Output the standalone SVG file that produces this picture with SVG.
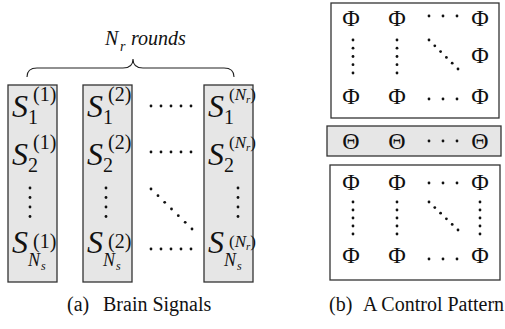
<svg xmlns="http://www.w3.org/2000/svg" width="505" height="329" viewBox="0 0 505 329">
  <style>
    .box { fill: #e6e6e6; stroke: #333; stroke-width: 1.3; }
    .wbox { fill: #fff; stroke: #333; stroke-width: 1.3; }
    .S { font-size: 32px; font-style: italic; }
    .sup { font-size: 20px; }
    .supN { font-size: 17px; }
    .sub { font-size: 20px; }
    .it { font-style: italic; }
    .sym { font-size: 24px; text-anchor: middle; }
    .cap { font-size: 20px; }
    .dot { fill: #111; }
  </style>
  <defs>
    <circle id="d" r="1.4" class="dot"/>
  </defs>

  <g font-family="'Liberation Serif', 'Times New Roman', serif" fill="#111">
  <!-- brace over the rounds -->
  <g id="brace">
    <path d="M27,77 Q27,68 37,68 L123,68 Q133,68 133,59 Q133,68 143,68 L224,68 Q234,68 234,77" fill="none" stroke="#222" stroke-width="1.1"/>
    <text x="105" y="45" font-size="20" font-style="italic">N</text>
    <text x="120" y="51" font-size="14" font-style="italic">r</text>
    <text x="131" y="45" font-size="20" font-style="italic">rounds</text>
  </g>

  <!-- round 1 column -->
  <g id="round1">
    <rect class="box" x="8" y="85" width="49" height="197"/>
    <text class="S" x="12" y="117">S</text><text class="sup" x="33" y="101">(1)</text><text class="sub" x="28" y="124">1</text>
    <text class="S" x="12" y="165">S</text><text class="sup" x="33" y="149">(1)</text><text class="sub" x="28" y="172">2</text>
    <use href="#d" x="30" y="188"/><use href="#d" x="30" y="197.5"/><use href="#d" x="30" y="207"/><use href="#d" x="30" y="216.5"/>
    <text class="S" x="12" y="253">S</text><text class="sup" x="33" y="248">(1)</text>
    <text class="sub it" x="28" y="266" style="font-size:18px">N</text><text class="it" x="41" y="270" style="font-size:12px">s</text>
  </g>

  <!-- round 2 column -->
  <g id="round2">
    <rect class="box" x="83" y="85" width="49" height="197"/>
    <text class="S" x="87" y="117">S</text><text class="sup" x="108" y="101">(2)</text><text class="sub" x="103" y="124">1</text>
    <text class="S" x="87" y="165">S</text><text class="sup" x="108" y="149">(2)</text><text class="sub" x="103" y="172">2</text>
    <use href="#d" x="106" y="188"/><use href="#d" x="106" y="197.5"/><use href="#d" x="106" y="207"/><use href="#d" x="106" y="216.5"/>
    <text class="S" x="87" y="253">S</text><text class="sup" x="108" y="248">(2)</text>
    <text class="sub it" x="103" y="266" style="font-size:18px">N</text><text class="it" x="116" y="270" style="font-size:12px">s</text>
  </g>

  <!-- round N_r column -->
  <g id="roundNr">
    <rect class="box" x="204" y="85" width="49" height="197"/>
    <text class="S" x="208" y="117">S</text>
    <text class="supN" x="229" y="100">(<tspan class="it">N</tspan><tspan style="font-size:11px" class="it" dy="3">r</tspan><tspan dy="-3">)</tspan></text>
    <text class="sub" x="224" y="124">1</text>
    <text class="S" x="208" y="165">S</text>
    <text class="supN" x="229" y="148">(<tspan class="it">N</tspan><tspan style="font-size:11px" class="it" dy="3">r</tspan><tspan dy="-3">)</tspan></text>
    <text class="sub" x="224" y="172">2</text>
    <use href="#d" x="238" y="188"/><use href="#d" x="238" y="197.5"/><use href="#d" x="238" y="207"/><use href="#d" x="238" y="216.5"/>
    <text class="S" x="208" y="253">S</text>
    <text class="supN" x="229" y="247">(<tspan class="it">N</tspan><tspan style="font-size:11px" class="it" dy="3">r</tspan><tspan dy="-3">)</tspan></text>
    <text class="sub it" x="224" y="266" style="font-size:18px">N</text><text class="it" x="237" y="270" style="font-size:12px">s</text>
  </g>

  <!-- dots between columns -->
  <g id="gapdots">
    <use href="#d" x="151" y="106"/><use href="#d" x="161" y="106"/><use href="#d" x="171" y="106"/><use href="#d" x="181" y="106"/><use href="#d" x="191" y="106"/>
    <use href="#d" x="151" y="152"/><use href="#d" x="161" y="152"/><use href="#d" x="171" y="152"/><use href="#d" x="181" y="152"/><use href="#d" x="191" y="152"/>
    <use href="#d" x="151" y="249"/><use href="#d" x="161" y="249"/><use href="#d" x="171" y="249"/><use href="#d" x="181" y="249"/><use href="#d" x="191" y="249"/>
    <use href="#d" x="151" y="189"/><use href="#d" x="158" y="195.7"/><use href="#d" x="164.7" y="202.3"/><use href="#d" x="171.5" y="209"/><use href="#d" x="178.3" y="215.7"/><use href="#d" x="185.2" y="222.3"/><use href="#d" x="192" y="229"/>
  </g>

  <!-- top Phi block -->
  <g id="phiTop">
    <rect class="wbox" x="331" y="3" width="168" height="115"/>
    <text class="sym" x="351" y="26">Φ</text><text class="sym" x="397" y="26">Φ</text><text class="sym" x="480" y="26">Φ</text>
    <use href="#d" x="429" y="16"/><use href="#d" x="443" y="16"/><use href="#d" x="457" y="16"/>
    <use href="#d" x="353" y="40"/><use href="#d" x="353" y="48.2"/><use href="#d" x="353" y="56.5"/><use href="#d" x="353" y="64.7"/><use href="#d" x="353" y="73"/>
    <use href="#d" x="397" y="40"/><use href="#d" x="397" y="48.2"/><use href="#d" x="397" y="56.5"/><use href="#d" x="397" y="64.7"/><use href="#d" x="397" y="73"/>
    <use href="#d" x="429" y="40"/><use href="#d" x="434.8" y="45.8"/><use href="#d" x="440.6" y="51.6"/><use href="#d" x="446.4" y="57.4"/><use href="#d" x="452.2" y="63.2"/><use href="#d" x="458" y="69"/>
    <text class="sym" x="480" y="63">Φ</text>
    <text class="sym" x="351" y="104">Φ</text><text class="sym" x="397" y="104">Φ</text><text class="sym" x="480" y="104">Φ</text>
    <use href="#d" x="429" y="99"/><use href="#d" x="443" y="99"/><use href="#d" x="457" y="99"/>
  </g>

  <!-- Theta row -->
  <g id="thetaRow">
    <rect class="box" x="327" y="126" width="174" height="30"/>
    <text class="sym" x="351" y="149">Θ</text><text class="sym" x="397" y="149">Θ</text><text class="sym" x="480" y="149">Θ</text>
    <use href="#d" x="429" y="141"/><use href="#d" x="443" y="141"/><use href="#d" x="457" y="141"/>
  </g>

  <!-- bottom Phi block -->
  <g id="phiBottom">
    <rect class="wbox" x="330" y="165" width="170" height="115"/>
    <text class="sym" x="351" y="190">Φ</text><text class="sym" x="397" y="190">Φ</text><text class="sym" x="480" y="190">Φ</text>
    <use href="#d" x="429" y="183"/><use href="#d" x="443" y="183"/><use href="#d" x="457" y="183"/>
    <use href="#d" x="353" y="202"/><use href="#d" x="353" y="210"/><use href="#d" x="353" y="218"/><use href="#d" x="353" y="226"/><use href="#d" x="353" y="234"/>
    <use href="#d" x="397" y="202"/><use href="#d" x="397" y="210"/><use href="#d" x="397" y="218"/><use href="#d" x="397" y="226"/><use href="#d" x="397" y="234"/>
    <use href="#d" x="480" y="202"/><use href="#d" x="480" y="210"/><use href="#d" x="480" y="218"/><use href="#d" x="480" y="226"/><use href="#d" x="480" y="234"/>
    <use href="#d" x="429" y="202"/><use href="#d" x="434.8" y="207.6"/><use href="#d" x="440.6" y="213.2"/><use href="#d" x="446.4" y="218.8"/><use href="#d" x="452.2" y="224.4"/><use href="#d" x="458" y="230"/>
    <text class="sym" x="351" y="263">Φ</text><text class="sym" x="397" y="263">Φ</text><text class="sym" x="480" y="263">Φ</text>
    <use href="#d" x="429" y="259"/><use href="#d" x="443" y="259"/><use href="#d" x="457" y="259"/>
  </g>

  <!-- captions -->
  <g id="captions">
    <text class="cap" x="67" y="311">(a)<tspan x="103">Brain Signals</tspan></text>
    <text class="cap" x="329" y="311">(b)<tspan x="363">A Control Pattern</tspan></text>
  </g>
  </g>
</svg>
